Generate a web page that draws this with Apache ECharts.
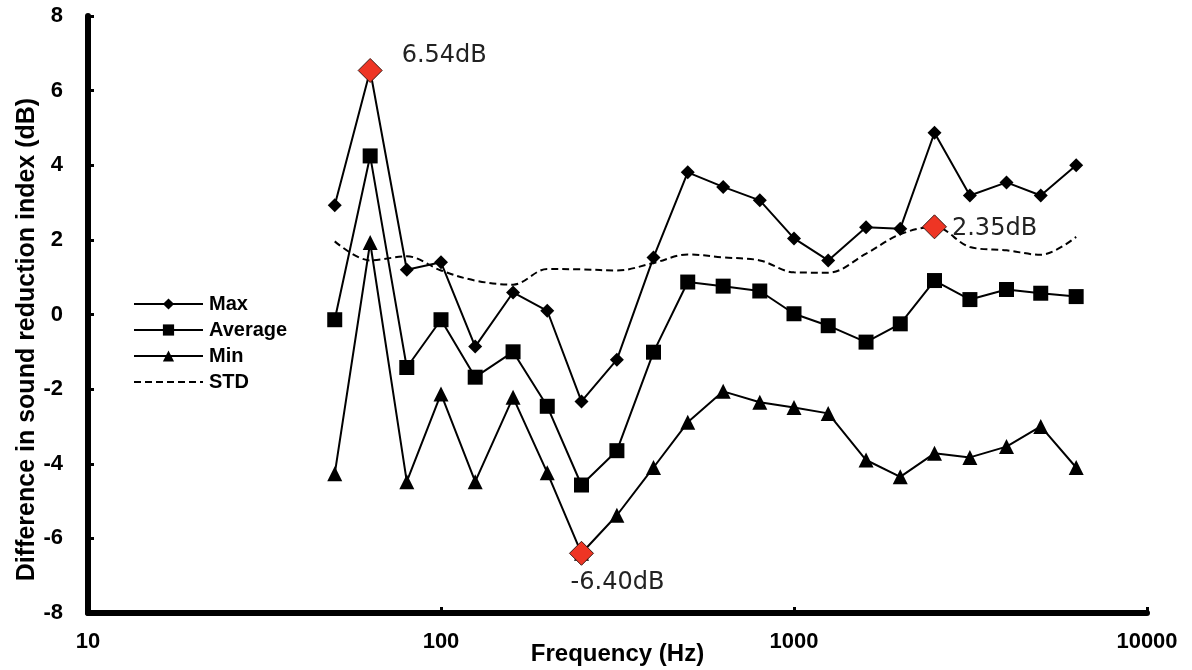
<!DOCTYPE html>
<html>
<head>
<meta charset="utf-8">
<script src="https://cdn.jsdelivr.net/npm/echarts@6/dist/echarts.min.js"></script>
<style>
  html, body { margin: 0; padding: 0; background: #fff; }
  #chart { width: 1192px; height: 670px; }
</style>
</head>
<body>
<div id="chart"></div>
<script>
// 1/3 octave band centre frequencies (Hz)
var freqs = [50, 63, 80, 100, 125, 160, 200, 250, 315, 400, 500, 630, 800, 1000, 1250, 1600, 2000, 2500, 3150, 4000, 5000, 6300];
var maxVals = [2.93, 6.54, 1.20, 1.40, -0.86, 0.59, 0.10, -2.33, -1.21, 1.53, 3.81, 3.42, 3.06, 2.04, 1.45, 2.34, 2.30, 4.87, 3.19, 3.54, 3.19, 4.00];
var avgVals = [-0.14, 4.25, -1.42, -0.14, -1.68, -1.00, -2.46, -4.57, -3.65, -1.01, 0.87, 0.76, 0.63, 0.02, -0.30, -0.74, -0.25, 0.91, 0.40, 0.67, 0.57, 0.48];
var minVals = [-4.27, 1.93, -4.48, -2.13, -4.48, -2.22, -4.24, -6.40, -5.38, -4.10, -2.89, -2.06, -2.35, -2.49, -2.65, -3.90, -4.35, -3.72, -3.83, -3.54, -3.00, -4.10];
var stdVals = [1.96, 1.45, 1.56, 1.18, 0.91, 0.80, 1.22, 1.21, 1.18, 1.38, 1.61, 1.53, 1.45, 1.13, 1.12, 1.63, 2.15, 2.35, 1.81, 1.72, 1.60, 2.08];
var seriesNames = ['Max', 'Average', 'Min', 'STD'];

function pairs(vals) {
  return freqs.map(function (f, i) { return [f, vals[i]]; });
}
function extremeIdx(vals, useMax) {
  var k = 0;
  vals.forEach(function (v, i) {
    if (useMax ? v > vals[k] : v < vals[k]) k = i;
  });
  return k;
}
// red diamond + "x.xxdB" label at the extreme point of a series
function peak(vals, useMax, labelPos, offset) {
  var i = extremeIdx(vals, useMax);
  return {
    symbol: 'diamond',
    symbolSize: 24,
    itemStyle: { color: '#ee3524', borderColor: '#3a1a14', borderWidth: 1 },
    label: {
      show: true,
      position: labelPos,
      offset: offset,
      color: '#222',
      fontFamily: 'DejaVu Sans',
      fontSize: 24,
      formatter: function (p) { return p.value.toFixed(2) + 'dB'; }
    },
    data: [{ coord: [freqs[i], vals[i]], value: vals[i] }]
  };
}

var bold = { fontFamily: 'Liberation Sans', fontWeight: 'bold', color: '#000' };
var lineBase = { type: 'line', color: '#000', lineStyle: { color: '#000', width: 2 }, itemStyle: { color: '#000' } };

var chart = echarts.init(document.getElementById('chart'));
chart.setOption({
  animation: false,
  grid: { left: 88, right: 45, top: 16, bottom: 57, outerBoundsMode: 'none' },
  legend: {
    orient: 'vertical',
    left: 128,
    top: 289,
    itemWidth: 69,
    itemHeight: 14,
    itemGap: 6,
    data: [
      { name: 'Max' },
      { name: 'Average' },
      { name: 'Min' },
      { name: 'STD', itemStyle: { color: 'rgba(0,0,0,0)', borderWidth: 0 } }
    ],
    textStyle: { fontFamily: 'Liberation Sans', fontWeight: 'bold', fontSize: 20, color: '#000', padding: [0, 0, 0, 1] }
  },
  xAxis: {
    type: 'log',
    logBase: 10,
    min: 10,
    max: 10000,
    name: 'Frequency (Hz)',
    nameLocation: 'middle',
    nameGap: 29,
    nameMoveOverlap: false,
    nameTextStyle: Object.assign({ fontSize: 24 }, bold),
    axisLine: { onZero: false, lineStyle: { color: '#000', width: 6 } },
    axisTick: { inside: true, length: 6, lineStyle: { color: '#000', width: 3 } },
    minorTick: { show: false },
    splitLine: { show: false },
    axisLabel: Object.assign({ fontSize: 22, margin: 18, formatter: function (v) { return String(Math.round(v)); } }, bold)
  },
  yAxis: {
    type: 'value',
    min: -8,
    max: 8,
    interval: 2,
    name: 'Difference in sound reduction index (dB)',
    nameLocation: 'middle',
    nameGap: 48,
    nameMoveOverlap: false,
    nameTextStyle: Object.assign({ fontSize: 25, padding: [0, 50, 0, 0] }, bold),
    axisLine: { show: true, onZero: false, lineStyle: { color: '#000', width: 6 } },
    axisTick: { show: true, inside: true, length: 6, lineStyle: { color: '#000', width: 3 } },
    splitLine: { show: false },
    axisLabel: Object.assign({ fontSize: 22, margin: 25 }, bold)
  },
  series: [
    Object.assign({}, lineBase, {
      name: 'Max', symbol: 'diamond', symbolSize: 14,
      data: pairs(maxVals),
      markPoint: peak(maxVals, true, 'right', [14, -15])
    }),
    Object.assign({}, lineBase, {
      name: 'Average', symbol: 'rect', symbolSize: 15,
      data: pairs(avgVals)
    }),
    Object.assign({}, lineBase, {
      name: 'Min', symbol: 'triangle', symbolSize: 15,
      data: pairs(minVals),
      markPoint: peak(minVals, false, 'bottom', [36, 0])
    }),
    Object.assign({}, lineBase, {
      name: 'STD', symbol: 'none', smooth: 0.35,
      lineStyle: { color: '#000', width: 2, type: [7, 4] },
      data: pairs(stdVals),
      markPoint: peak(stdVals, true, 'right', [0, 2])
    })
  ]
});
</script>
</body>
</html>
